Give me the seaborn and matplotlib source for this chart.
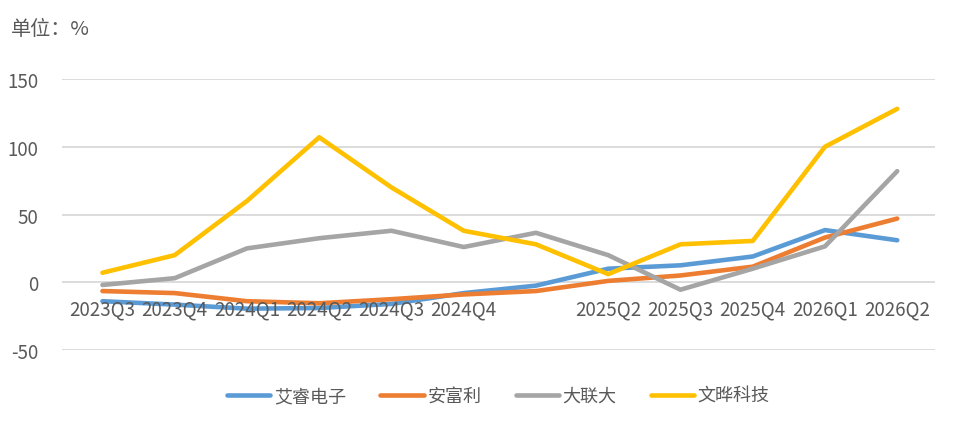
import pandas as pd
import matplotlib.pyplot as plt
import seaborn as sns

# Quarter labels (2025Q1 label is not shown on the chart)
quarters = ["2023Q3", "2023Q4", "2024Q1", "2024Q2", "2024Q3", "2024Q4",
            "2025Q1", "2025Q2", "2025Q3", "2025Q4", "2026Q1", "2026Q2"]
tick_labels = ["2023Q3", "2023Q4", "2024Q1", "2024Q2", "2024Q3", "2024Q4",
               "", "2025Q2", "2025Q3", "2025Q4", "2026Q1", "2026Q2"]

airui = [-14, -16.5, -19.5, -19, -16, -8, -2.5, 10, 12.5, 19, 38.5, 31]
anfuli = [-6.5, -8, -14, -15.5, -12.5, -9, -6.5, 1, 5, 11.5, 33, 47]
dalianda = [-2, 3, 25, 32.5, 38, 26, 36.5, 20, -5.5, 10, 26.5, 82]
wenye = [7, 20, 60, 107, 70, 38, 28, 6, 28, 30.5, 100, 128]

y_ticks = [-50, 0, 50, 100, 150]

series_names = ["艾睿电子", "安富利", "大联大", "文晔科技"]
colors = ["#5B9BD5", "#ED7D31", "#A5A5A5", "#FFC000"]

frames = []
for name, vals in zip(series_names, [airui, anfuli, dalianda, wenye]):
    frames.append(pd.DataFrame({"idx": range(len(quarters)), "value": vals, "series": name}))
df = pd.concat(frames, ignore_index=True)

sns.set_style("white")
plt.rcParams['font.family'] = ['Noto Sans CJK SC', 'DejaVu Sans']

fig = plt.figure(figsize=(9.57, 4.27), dpi=100)
ax = fig.add_axes([0.0648, 0.178, 0.912, 0.6346])

# gridlines drawn by hand so they stay under the lines, while tick labels go on top
for t in y_ticks:
    ax.axhline(t, color="#D9D9D9", linewidth=1.3, zorder=1)

sns.lineplot(data=df, x="idx", y="value", hue="series", hue_order=series_names,
             palette=colors, linewidth=3.3, ax=ax, zorder=2)

ax.set_ylim(-50, 150)
ax.set_xlim(-0.56, 11.52)
ax.set_yticks(y_ticks)
ax.set_yticklabels([str(t) for t in y_ticks])
ax.grid(False)
ax.set_axisbelow(False)
for s in ax.spines.values():
    s.set_visible(False)

# category labels sit just under the zero line, like the original
ax.spines['bottom'].set_position(('data', 0))
ax.set_xticks(range(len(quarters)))
ax.set_xticklabels(tick_labels)
ax.tick_params(axis='x', length=0, pad=12, labelsize=13.5, labelcolor="#595959")
ax.tick_params(axis='y', length=0, pad=17, labelsize=13.5, labelcolor="#595959")
ax.set_xlabel("")
ax.set_ylabel("")

fig.text(0.011, 0.93, "单位：%", fontsize=14.5, color="#595959", va="center", ha="left")

leg = ax.legend(loc="center", bbox_to_anchor=(0.5, -0.17), ncol=4, frameon=False,
                fontsize=13, handlelength=2.4, columnspacing=1.9, handletextpad=0.2,
                labelcolor="#595959")
for line in leg.get_lines():
    line.set_solid_capstyle("round")

plt.savefig("out.png", dpi=100)
